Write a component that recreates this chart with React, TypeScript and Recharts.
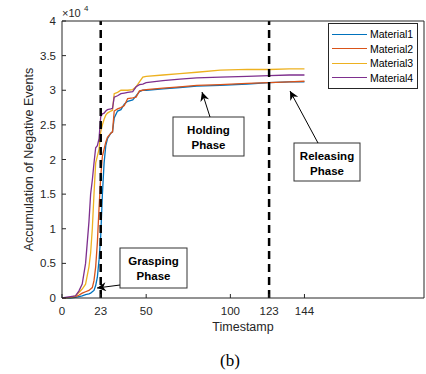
import React from 'react';
import { LineChart, Line, XAxis, YAxis, ReferenceLine, Legend, Label } from 'recharts';

// sample timestamps
const timestamps = [
  0, 5, 8, 10, 12, 14, 16, 17, 18, 19, 20, 21, 22, 23, 24, 25, 26, 27, 29, 30, 31, 33, 35, 37, 39,
  42, 44, 46, 48, 50, 60, 70, 80, 94, 110, 123, 135, 144,
];

// accumulated negative events, in units of 10^4
const material1 = [
  0, 0, 0.01, 0.02, 0.03, 0.05, 0.06, 0.07, 0.09, 0.11, 0.18, 0.3, 0.55, 0.9, 1.5, 1.95, 2.2, 2.3,
  2.38, 2.4, 2.6, 2.7, 2.72, 2.8, 2.84, 2.86, 2.92, 2.98, 3.0, 3.0, 3.02, 3.04, 3.06, 3.07, 3.09,
  3.11, 3.12, 3.12,
];
const material2 = [
  0, 0.01, 0.02, 0.04, 0.07, 0.09, 0.11, 0.13, 0.15, 0.25, 0.45, 0.8, 1.3, 1.75, 2.05, 2.15, 2.25,
  2.32, 2.38, 2.4, 2.7, 2.73, 2.75, 2.78, 2.88, 2.89, 2.9, 2.99, 3.0, 3.01, 3.03, 3.05, 3.07, 3.08,
  3.1, 3.11, 3.12, 3.13,
];
const material3 = [
  0, 0.01, 0.03, 0.08, 0.13, 0.2, 0.45, 0.65, 1.0, 1.5, 1.95, 2.05, 2.15, 2.4, 2.5, 2.58, 2.64,
  2.67, 2.7, 2.71, 2.95, 2.97, 3.0, 3.0, 3.0, 3.01, 3.05, 3.12, 3.19, 3.2, 3.22, 3.24, 3.26, 3.29,
  3.3, 3.3, 3.31, 3.31,
];
const material4 = [
  0, 0.02, 0.03, 0.1, 0.2, 0.5, 1.1, 1.5, 1.7, 1.95, 2.17, 2.2, 2.3, 2.62, 2.66, 2.67, 2.7, 2.72,
  2.73, 2.74, 2.9, 2.92, 2.95, 2.96, 2.97, 2.98, 3.05, 3.08, 3.09, 3.11, 3.14, 3.16, 3.18, 3.19,
  3.2, 3.21, 3.22, 3.22,
];

const seriesNames = ['Material1', 'Material2', 'Material3', 'Material4'];
const seriesKeys = ['m1', 'm2', 'm3', 'm4'];
const seriesColors = ['#0072BD', '#D95319', '#EDB120', '#7E2F8E'];

const xTicks = [0, 23, 50, 100, 123, 144];
const yTicks = [0, 5000, 10000, 15000, 20000, 25000, 30000, 35000, 40000];
const phaseLines = [23, 123];

const SCALE = 10000;
const data = timestamps.map((t, i) => ({
  t,
  m1: material1[i] * SCALE,
  m2: material2[i] * SCALE,
  m3: material3[i] * SCALE,
  m4: material4[i] * SCALE,
}));

// text boxes with arrows (page pixels)
const annotations = [
  { lines: ['Grasping', 'Phase'], box: [120, 248, 67, 40], from: [120, 285], to: [97, 288] },
  { lines: ['Holding', 'Phase'], box: [173, 117, 71, 39], from: [210, 117], to: [202, 92] },
  { lines: ['Releasing', 'Phase'], box: [294, 143, 66, 38], from: [318, 143], to: [290, 91] },
];

const FONT = '"Liberation Sans", Arial, Helvetica, sans-serif';
const AXIS = '#262626';

const renderLegend = (props: any) => {
  const { payload } = props;
  return (
    <div
      style={{
        border: `1px solid ${AXIS}`,
        background: '#fff',
        width: 90,
        padding: '3px 0',
        boxSizing: 'border-box',
        fontFamily: FONT,
      }}
    >
      {payload.map((entry: any) => (
        <div key={entry.value} style={{ display: 'flex', alignItems: 'center', height: 14.5 }}>
          <span
            style={{
              display: 'inline-block',
              width: 35,
              height: 0,
              borderTop: `1.3px solid ${entry.color}`,
              marginLeft: 3,
              marginRight: 3,
            }}
          />
          <span style={{ fontSize: 10.5, color: '#000', lineHeight: '14px' }}>{entry.value}</span>
        </div>
      ))}
    </div>
  );
};

export default function App() {
  const tickStyle = { fontSize: 11.5, fill: AXIS, fontFamily: FONT };
  return (
    <div style={{ position: 'absolute', left: 0, top: 0, width: 426, height: 374, background: '#fff' }}>
      <LineChart
        width={426}
        height={374}
        data={data}
        margin={{ top: 11, right: 0, bottom: 46, left: 22 }}
      >
        <XAxis
          dataKey="t"
          type="number"
          domain={[0, 215]}
          ticks={xTicks}
          height={30}
          tick={tickStyle}
          tickSize={-4}
          tickMargin={13}
          axisLine={{ stroke: AXIS }}
          tickLine={{ stroke: AXIS }}
        >
          <Label
            value="Timestamp"
            position="bottom"
            offset={-6}
            style={{ fontSize: 12.5, fill: AXIS, fontFamily: FONT }}
          />
        </XAxis>
        <XAxis
          xAxisId="top"
          orientation="top"
          dataKey="t"
          type="number"
          domain={[0, 215]}
          ticks={xTicks}
          height={10}
          tick={false}
          tickSize={-4}
          axisLine={{ stroke: AXIS }}
          tickLine={{ stroke: AXIS }}
        />
        <YAxis
          type="number"
          domain={[0, 40000]}
          ticks={yTicks}
          width={40}
          tick={tickStyle}
          tickSize={-4}
          tickMargin={10}
          tickFormatter={(v: number) => `${v / SCALE}`}
          axisLine={{ stroke: AXIS }}
          tickLine={{ stroke: AXIS }}
        >
          <Label
            content={(p: any) => {
              const vb = p.viewBox;
              const cx = vb.x + vb.width - 29;
              const cy = vb.y + vb.height / 2;
              return (
                <text
                  x={cx}
                  y={cy}
                  transform={`rotate(-90, ${cx}, ${cy})`}
                  textAnchor="middle"
                  style={{ fontSize: 12.5, fill: AXIS, fontFamily: FONT }}
                >
                  Accumulation of Negative Events
                </text>
              );
            }}
          />
        </YAxis>
        <YAxis
          yAxisId="right"
          orientation="right"
          type="number"
          domain={[0, 40000]}
          ticks={yTicks}
          width={2}
          tick={false}
          tickSize={-4}
          axisLine={{ stroke: AXIS }}
          tickLine={{ stroke: AXIS }}
        />
        <Legend
          layout="horizontal"
          verticalAlign="middle"
          align="center"
          content={renderLegend}
          wrapperStyle={{ left: 328, top: 23, width: 90 }}
        />
        {seriesKeys.map((k, i) => (
          <Line
            key={k}
            type="linear"
            dataKey={k}
            name={seriesNames[i]}
            stroke={seriesColors[i]}
            strokeWidth={1.3}
            dot={false}
            isAnimationActive={false}
          />
        ))}
        {phaseLines.map((x) => (
          <ReferenceLine key={x} x={x} stroke="#000" strokeWidth={2.5} strokeDasharray="8 5" />
        ))}
      </LineChart>
      <svg
        width={426}
        height={374}
        style={{ position: 'absolute', left: 0, top: 0, pointerEvents: 'none' }}
      >
        <defs>
          <marker
            id="arrowhead"
            viewBox="0 0 10 10"
            refX="10"
            refY="5"
            markerWidth="11"
            markerHeight="9"
            markerUnits="userSpaceOnUse"
            orient="auto"
          >
            <path d="M0,0 L10,5 L0,10 L3,5 z" fill="#000" />
          </marker>
        </defs>
        <text x={62} y={17} style={{ fontSize: 11, fill: AXIS, fontFamily: FONT }}>
          ×10
        </text>
        <text x={84} y={11} style={{ fontSize: 8, fill: AXIS, fontFamily: FONT }}>
          4
        </text>
        {annotations.map((a) => {
          const [bx, by, bw, bh] = a.box;
          return (
            <g key={a.lines[0]}>
              <rect x={bx} y={by} width={bw} height={bh} fill="none" stroke="#333" strokeWidth={1} />
              {a.lines.map((line, j) => (
                <text
                  key={line}
                  x={bx + bw / 2}
                  y={by + 17 + j * 14.5}
                  textAnchor="middle"
                  style={{ fontSize: 11.5, fontWeight: 'bold', fill: '#000', fontFamily: FONT }}
                >
                  {line}
                </text>
              ))}
              <line
                x1={a.from[0]}
                y1={a.from[1]}
                x2={a.to[0]}
                y2={a.to[1]}
                stroke="#000"
                strokeWidth={1}
                markerEnd="url(#arrowhead)"
              />
            </g>
          );
        })}
        <text
          x={230}
          y={366}
          textAnchor="middle"
          style={{ fontSize: 17, fill: '#000', fontFamily: '"Liberation Serif", "Times New Roman", serif' }}
        >
          (b)
        </text>
      </svg>
    </div>
  );
}
